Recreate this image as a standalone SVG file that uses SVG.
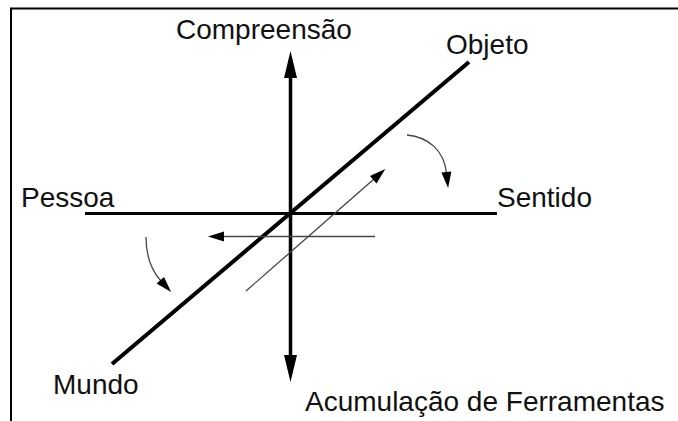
<svg xmlns="http://www.w3.org/2000/svg" width="678" height="421" viewBox="0 0 678 421">
<style>
.lbl{font-family:"Liberation Sans",Arial,sans-serif;font-size:28px;fill:#111}
.thick{stroke:#000;fill:none}
.thin{stroke:#444;stroke-width:1.3;fill:none}
</style>
<defs>
<marker id="ah" markerUnits="userSpaceOnUse" markerWidth="18" markerHeight="12" refX="1" refY="5" orient="auto" overflow="visible">
<path d="M0,0 L16,5 L0,10 z" fill="#000"/>
</marker>
<marker id="big" markerUnits="userSpaceOnUse" markerWidth="30" markerHeight="14" refX="1" refY="6.5" orient="auto" overflow="visible">
<path d="M0,0 L27,6.5 L0,13 z" fill="#000"/>
</marker>
</defs>
<rect width="678" height="421" fill="#fff"/>
<g id="frame">
<path d="M11,421 V8.5 H678" stroke="#000" stroke-width="2" fill="none"/>
</g>
<g id="connectors">
<line class="thick" x1="85" y1="213.5" x2="497" y2="213.5" stroke-width="3"/>
<line class="thick" x1="112" y1="364" x2="469" y2="62" stroke-width="4"/>
<line class="thick" x1="290.5" y1="213" x2="290.5" y2="77" stroke-width="3.5" marker-end="url(#big)"/>
<line class="thick" x1="290.5" y1="213" x2="290.5" y2="356" stroke-width="3.5" marker-end="url(#big)"/>
<line class="thin" x1="375" y1="236.5" x2="223" y2="236.5" marker-end="url(#ah)"/>
<line class="thin" x1="246" y1="291" x2="374" y2="179" marker-end="url(#ah)"/>
<path class="thin" d="M407,135 C428,137 444,150 446.5,173" marker-end="url(#ah)"/>
<path class="thin" d="M146,237 C146,256 151,270 161,281" marker-end="url(#ah)"/>
</g>
<g id="n-compreensao"><text class="lbl" x="176" y="39">Compreensão</text></g>
<g id="n-objeto"><text class="lbl" x="446" y="54">Objeto</text></g>
<g id="n-pessoa"><text class="lbl" x="21" y="207">Pessoa</text></g>
<g id="n-sentido"><text class="lbl" x="497" y="207">Sentido</text></g>
<g id="n-mundo"><text class="lbl" x="53" y="394">Mundo</text></g>
<g id="n-acumulacao"><text class="lbl" x="305" y="411">Acumulação de Ferramentas</text></g>
</svg>
